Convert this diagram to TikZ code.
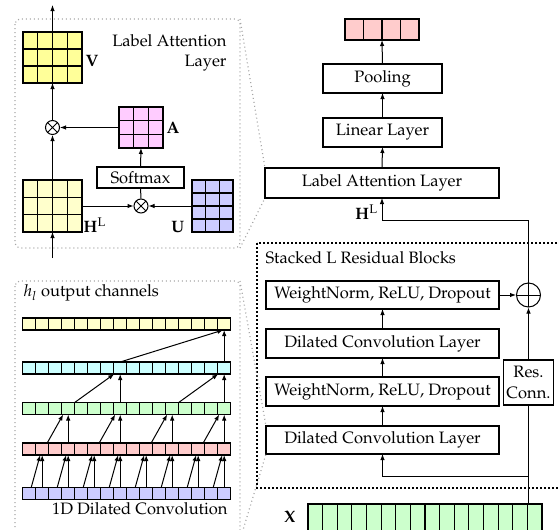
\documentclass[tikz,border=0pt]{standalone}
\usepackage[T1]{fontenc}
\usepackage{mathpazo}
\usepackage{amsmath}
\usepackage{tikz}
\usetikzlibrary{positioning,calc,arrows.meta}

\definecolor{cYellow}{HTML}{FFFF99}
\definecolor{cLightYellow}{HTML}{FFFFCC}
\definecolor{cPink}{HTML}{FFCCCC}
\definecolor{cMagenta}{HTML}{FFCCFF}
\definecolor{cBlue}{HTML}{CCCCFF}
\definecolor{cCyan}{HTML}{CCFFFF}
\definecolor{cGreen}{HTML}{CCFFCC}

% matrix as a grid: name, centre, cols, rows, width, height, fill
\newcommand{\gridmat}[7]{%
  \node[draw, line width=1.1pt, fill=#7, minimum width=#5, minimum height=#6, inner sep=0pt, outer sep=0pt] (#1) at (#2) {};
  \foreach \k in {1,...,#3}
    \draw[line width=1.1pt] ($(#1.south west)+(\k*#5/#3,0)$) -- +(0,#6);
  \foreach \k in {1,...,#4}
    \draw[line width=1.1pt] ($(#1.south west)+(0,\k*#6/#4)$) -- +(#5,0);
}

\begin{document}
\begin{tikzpicture}[x=1pt, y=1pt, >={Latex[length=6pt,width=4.5pt]}, line width=1pt,
  font=\fontsize{16.5}{20.5}\selectfont,
  layer/.style={draw, line width=1.1pt, inner sep=0pt, outer sep=0pt, align=center},
  cell/.style={draw, line width=1.1pt, minimum width=13, minimum height=12, inner sep=0pt, outer sep=0pt},
  panel/.style={draw=gray!70, dash pattern=on 1pt off 3pt, line width=1.2pt, rounded corners=5},
  zoomline/.style={gray!70, dash pattern=on 1pt off 3pt, line width=1.2pt},
  stackbox/.style={draw, dash pattern=on 1.6pt off 2.4pt, line width=1.3pt},
  prod/.style={circle, draw, inner sep=0pt, minimum size=14,
    path picture={\draw (path picture bounding box.north west) -- (path picture bounding box.south east)
      (path picture bounding box.north east) -- (path picture bounding box.south west);}},
  sum/.style={circle, draw, inner sep=0pt, minimum size=24,
    path picture={\draw (path picture bounding box.north) -- (path picture bounding box.south)
      (path picture bounding box.east) -- (path picture bounding box.west);}}]
\useasboundingbox (0,0) rectangle (558,-530);

% label attention panel
\draw[panel] (15,-19) coordinate (up-nw) rectangle (240,-248) coordinate (up-se);
\gridmat{V}{52.5,-57.5}{4}{3}{59}{51}{cYellow}
\gridmat{H}{52.5,-206}{4}{3}{59}{52}{cLightYellow}
\gridmat{A}{141,-127.5}{3}{3}{44}{41}{cMagenta}
\gridmat{U}{212.5,-206}{3}{4}{41}{52}{cBlue}
\node[prod] (o1) at (52.5,-127.5) {};
\node[prod] (o2) at (141,-206) {};
\node[layer, minimum width=87, minimum height=21] (soft) at (140.5,-177.5) {Softmax};
\node[anchor=west, inner sep=3pt] (Vlab) at ($(V.east)+(0,-3)$) {$\mathbf{V}$};
\node[anchor=west, inner sep=3pt] (Alab) at (A.east) {$\mathbf{A}$};
\node[anchor=base west, inner sep=1pt] (Hlab) at ($(H.south east)+(0,0)$) {$\mathbf{H}^{\mathrm{L}}$};
\node[anchor=base east, inner sep=1pt] (Ulab) at ($(U.south west)+(-6,0)$) {$\mathbf{U}$};
\node[anchor=north east, align=right, inner sep=0pt] (laname) at (227,-34) {Label Attention\\Layer};
\coordinate (lain) at (52.5,-258);
\coordinate (laout) at (52.5,-5);
\draw[->] (lain) -- (H.south);
\draw[->] (H.north) -- (o1.south);
\draw[->] (o1.north) -- (V.south);
\draw[->] (V.north) -- (laout);
\draw[->] (A.west) -- (o1.east);
\draw (o2.north) -- (soft.south);
\draw[->] (soft.north) -- (A.south);
\draw[->] (H.east) -- (o2.west);
\draw[->] (U.west) -- (o2.east);

% dilated convolution panel
\draw[panel] (15,-281) coordinate (lo-nw) rectangle (240,-540) coordinate (lo-se);
\node[anchor=west, inner sep=0pt] (chan) at (23,-293) {$h_l$ output channels};
\node[anchor=east, inner sep=0pt] (dilname) at (228,-509) {1D Dilated Convolution};
\foreach \r/\c/\y in {ye/cLightYellow/324, cy/cCyan/368, gr/cGreen/408.5, pk/cPink/449, bl/cBlue/493.5}
  \foreach \i in {0,...,15}
    \node[cell, fill=\c] (\r-\i) at (29.2+13*\i, -\y) {};
\foreach \i [evaluate=\i as \j using int(\i-1)] in {1,3,...,15} {
  \draw[->] ([xshift=2]bl-\j.north) -- ([xshift=-2]pk-\i.south);
  \draw[->] (bl-\i.north) -- (pk-\i.south);
}
\foreach \i [evaluate=\i as \j using int(\i-2)] in {3,7,11,15} {
  \draw[->] ([xshift=5]pk-\j.north) -- ([xshift=-5]gr-\i.south);
  \draw[->] (pk-\i.north) -- (gr-\i.south);
}
\foreach \i [evaluate=\i as \j using int(\i-4)] in {7,15} {
  \draw[->] (gr-\j.north east) -- ([xshift=-6]cy-\i.south);
  \draw[->] (gr-\i.north) -- (cy-\i.south);
}
\draw[->] (cy-7.north) -- ([xshift=-1]ye-15.south);
\draw[->] (cy-15.north) -- (ye-15.south);

% main model
\gridmat{out}{382,-29.5}{4}{1}{74}{21}{cPink}
\node[layer, minimum width=119, minimum height=29] (pool) at (382.5,-78.5) {Pooling};
\node[layer, minimum width=119, minimum height=29] (lin) at (382.5,-132.5) {Linear Layer};
\node[layer, minimum width=234, minimum height=30] (lal) at (382,-183) {Label Attention Layer};
\draw[stackbox] (257,-243) rectangle (566,-488);
\node[anchor=west, inner sep=0pt] (stackname) at (265,-258) {Stacked L Residual Blocks};
\node[layer, minimum width=233, minimum height=28] (wn2) at (382.5,-295) {WeightNorm, ReLU, Dropout};
\node[layer, minimum width=233, minimum height=29] (dcl2) at (382.5,-343.5) {Dilated Convolution Layer};
\node[layer, minimum width=233, minimum height=29] (wn1) at (382.5,-391.5) {WeightNorm, ReLU, Dropout};
\node[layer, minimum width=233, minimum height=28] (dcl1) at (382.5,-440) {Dilated Convolution Layer};
\node[layer, minimum width=50, minimum height=45] (res) at (528.5,-382.5) {Res.\\Conn.};
\node[sum] (add) at (528.5,-295) {};
\gridmat{xvec}{425,-519}{16}{1}{234}{30}{cGreen}
\node[left=12pt of xvec.west, inner sep=0pt] (xlab) at ($(xvec.north west)+(0,-13)$) {$\mathbf{X}$};
\coordinate (xin) at (528.5,-504);
\coordinate (hlturn) at ($(lal.south)+(0,-22)$);
\node[anchor=east, inner sep=0pt] (hllab) at ($(lal.south)+(-4,-14)$) {$\mathbf{H}^{\mathrm{L}}$};
\draw[->] (pool.north) -- (out.south);
\draw[->] (lin.north) -- (pool.south);
\draw[->] (lal.north) -- (lin.south);
\draw[->] (add.north) |- (hlturn) -- (lal.south);
\draw[->] (dcl1.north) -- (wn1.south);
\draw[->] (wn1.north) -- (dcl2.south);
\draw[->] (dcl2.north) -- (wn2.south);
\draw[->] (wn2.east) -- (add.west);
\draw (xin) -- (res.south);
\draw[->] (res.north) -- (add.south);
\draw[->] ($(xin)+(0,28)$) -| (dcl1.south);

% zoom lines
\draw[zoomline] (up-se |- up-nw) -- (lal.north west);
\draw[zoomline] (up-se) -- (lal.south west);
\draw[zoomline] (lo-se |- lo-nw) -- (dcl1.north west);
\draw[zoomline] (lo-se) -- (dcl1.south west);
\end{tikzpicture}
\end{document}
